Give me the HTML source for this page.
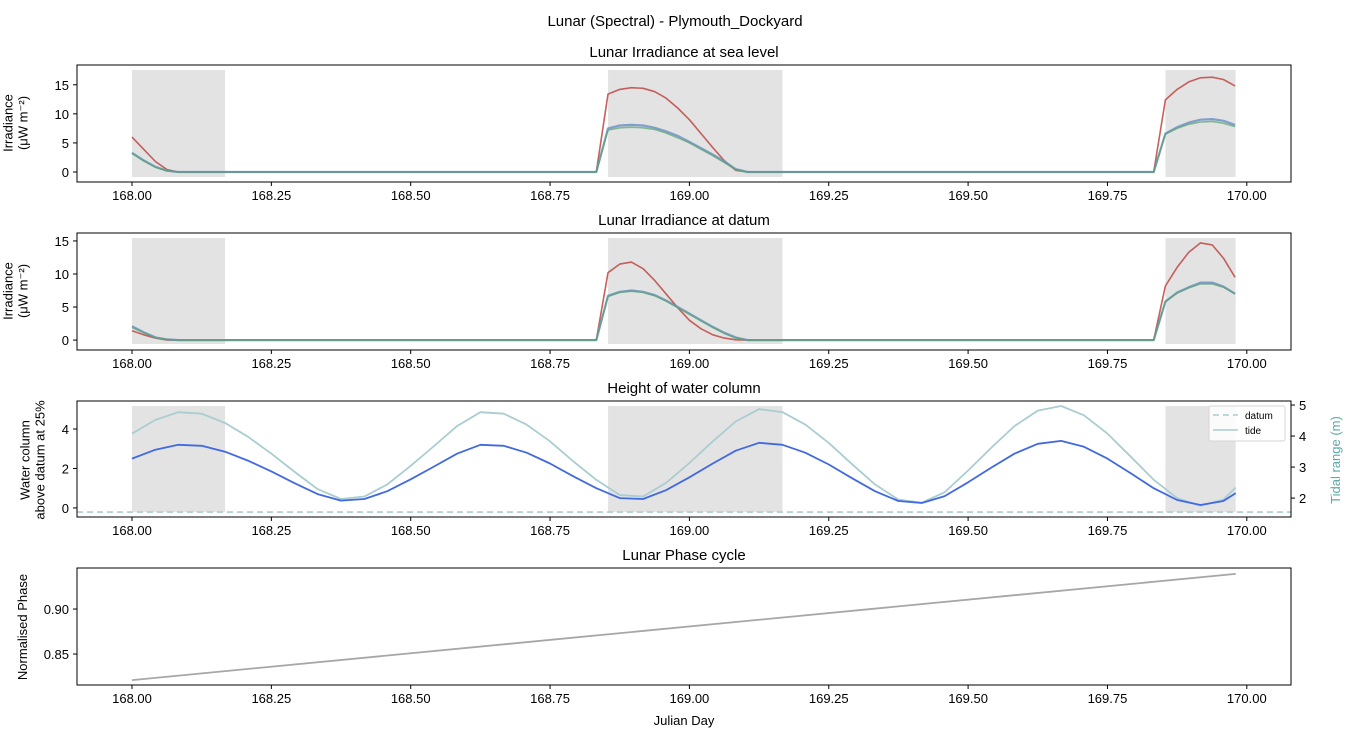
<!DOCTYPE html>
<html><head><meta charset="utf-8"><style>
html,body{margin:0;padding:0;background:#fff;}
svg{display:block;font-family:"Liberation Sans","DejaVu Sans",sans-serif;}
</style></head><body>
<svg id="fig" width="1350" height="734" viewBox="0 0 1350 734"></svg>
<script>
// ---- data ----
const sparseT1 = [168.0,168.021,168.042,168.063,168.083,168.833,168.854,168.875,168.896,168.917,168.938,168.958,168.979,169.0,169.021,169.042,169.063,169.083,169.104,169.833,169.854,169.875,169.896,169.917,169.938,169.958,169.979];
const seaRed   = [6.0,3.9,1.8,0.4,0,0,13.4,14.2,14.5,14.4,13.8,12.7,11.0,9.0,6.6,4.2,1.9,0.3,0,0,12.4,14.2,15.5,16.2,16.3,15.9,14.8];
const seaBlue  = [3.3,2.0,0.9,0.2,0,0,7.5,8.0,8.1,8.0,7.6,7.0,6.2,5.2,4.1,3.0,1.8,0.5,0,0,6.6,7.7,8.5,9.0,9.1,8.8,8.1];
const seaGreen = [3.2,1.9,0.8,0.2,0,0,7.2,7.6,7.7,7.6,7.3,6.7,5.9,5.0,3.9,2.8,1.6,0.4,0,0,6.5,7.5,8.2,8.6,8.7,8.4,7.8];
const datRed   = [1.4,0.8,0.3,0,0,0,10.2,11.5,11.8,10.8,9.0,7.0,4.9,3.0,1.7,0.8,0.3,0.05,0,0,8.2,11.0,13.3,14.7,14.4,12.4,9.5];
const datBlue  = [2.1,1.2,0.4,0.1,0,0,6.7,7.3,7.5,7.3,6.8,6.0,5.0,4.0,3.0,2.0,1.1,0.4,0,0,5.8,7.2,8.0,8.7,8.7,8.1,7.0];
const datGreen = [1.9,1.1,0.4,0.1,0,0,6.6,7.2,7.4,7.2,6.7,5.9,4.9,3.9,2.9,1.9,1.0,0.3,0,0,5.9,7.1,7.9,8.5,8.5,8.0,7.0];
const tideT = [168.0,168.042,168.083,168.125,168.167,168.208,168.25,168.292,168.333,168.375,168.417,168.458,168.5,168.542,168.583,168.625,168.667,168.708,168.75,168.792,168.833,168.875,168.917,168.958,169.0,169.042,169.083,169.125,169.167,169.208,169.25,169.292,169.333,169.375,169.417,169.458,169.5,169.542,169.583,169.625,169.667,169.708,169.75,169.792,169.833,169.875,169.917,169.958,169.98];
const waterCol = [2.5,2.95,3.2,3.15,2.85,2.4,1.85,1.25,0.7,0.37,0.45,0.85,1.45,2.1,2.75,3.2,3.15,2.8,2.25,1.6,1.0,0.5,0.45,0.9,1.55,2.25,2.9,3.3,3.2,2.8,2.2,1.5,0.85,0.35,0.25,0.6,1.3,2.05,2.75,3.25,3.4,3.1,2.5,1.75,1.0,0.4,0.15,0.35,0.75];
const tideRange = [4.08,4.52,4.77,4.72,4.42,3.98,3.43,2.84,2.29,1.97,2.05,2.44,3.04,3.68,4.32,4.77,4.72,4.37,3.83,3.18,2.59,2.10,2.05,2.49,3.13,3.83,4.47,4.87,4.77,4.37,3.78,3.09,2.44,1.95,1.85,2.19,2.89,3.63,4.32,4.82,4.97,4.67,4.08,3.33,2.59,2.00,1.75,1.95,2.34];
const datumLevel = [1.55];
const phaseT = [168.0,169.98];
const phaseV = [0.821,0.939];
const nightBands = [[168.0,168.167],[168.854,169.167],[169.854,169.98]];
const xTicks = [168.0,168.25,168.5,168.75,169.0,169.25,169.5,169.75,170.0];

// ---- layout ----
const NS="http://www.w3.org/2000/svg";
const svg=document.getElementById('fig');
const AX0=77, AX1=1291;
const xs=v=>132+(v-168)*557.4;
function el(tag,attrs,parent){const e=document.createElementNS(NS,tag);for(const k in attrs)e.setAttribute(k,attrs[k]);(parent||svg).appendChild(e);return e;}
function txt(s,x,y,attrs){const t=el('text',Object.assign({x:x,y:y,'font-size':13,fill:'#000'},attrs||{}));t.textContent=s;return t;}
function mkY(top,bot,lo,hi){return v=>bot-(v-lo)/(hi-lo)*(bot-top);}
function path(xsArr,ysArr,ys,attrs,name){
  let d='';xsArr.forEach((t,i)=>{d+=(i?'L':'M')+xs(t).toFixed(1)+' '+ys(ysArr[i]).toFixed(1);});
  const p=el('path',Object.assign({d:d,fill:'none','stroke-width':1.6,'stroke-linejoin':'round'},attrs));
  
  
  return p;
}
function panel(top,bot,title,name){
  const g=el('g',{});
  
  
  const t=txt(title,(AX0+AX1)/2,top-8,{'text-anchor':'middle','font-size':15});
  
  
  xTicks.forEach(v=>{const x=xs(v);el('line',{x1:x,x2:x,y1:bot,y2:bot+4,stroke:'#000'});
    const l=txt(v.toFixed(2),x,bot+18,{'text-anchor':'middle'});
    
    });
  return g;
}
function frame(top,bot){el('rect',{x:AX0,y:top,width:AX1-AX0,height:bot-top,fill:'none',stroke:'#000','stroke-width':1});}
function bands(top,bot){nightBands.forEach(b=>{const r=el('rect',{x:xs(b[0]),y:top,width:xs(b[1])-xs(b[0]),height:bot-top,fill:'#e3e3e3'});
  
  });}
function yticks(ticks,ys,fmt,side){ticks.forEach(v=>{const y=ys(v);
  if(side==='r'){el('line',{x1:AX1,x2:AX1+4,y1:y,y2:y,stroke:'#000'});txt(fmt(v),AX1+8,y+5,{});}
  else{el('line',{x1:AX0-4,x2:AX0,y1:y,y2:y,stroke:'#000'});txt(fmt(v),AX0-8,y+5,{'text-anchor':'end'});}});}
function ylabel(lines,x,cy,color){const t=el('text',{transform:`translate(${x},${cy}) rotate(-90)`,'text-anchor':'middle','font-size':13,fill:color||'#000'});
  lines.forEach((s,i)=>{const ts=el('tspan',{x:0,dy:i?15:(-(lines.length-1)*7.5)},t);ts.textContent=s;});
  
  }

const sup=txt('Lunar (Spectral) - Plymouth_Dockyard',675,26,{'text-anchor':'middle','font-size':15});



const RED='#c0504d', BLUE='#6b93c4', GREEN='#5aa36f';
// panel 1
{const top=65,bot=182,ys=mkY(top,bot,-1.72,18.4);
 panel(top,bot,'Lunar Irradiance at sea level','sea-level-panel');bands(70,177);
 path(sparseT1,seaRed,ys,{stroke:RED,'stroke-opacity':0.9},'sea-red-line');
 path(sparseT1,seaBlue,ys,{stroke:BLUE,'stroke-opacity':0.85,'stroke-width':2.2},'sea-blue-line');
 path(sparseT1,seaGreen,ys,{stroke:GREEN,'stroke-opacity':0.7},'sea-green-line');
 frame(top,bot);yticks([0,5,10,15],ys,v=>v,'l');ylabel(['Irradiance','(μW m⁻²)'],20,123);}
// panel 2
{const top=233,bot=350,ys=mkY(top,bot,-1.5,16.2);
 panel(top,bot,'Lunar Irradiance at datum','datum-panel');bands(238,344);
 path(sparseT1,datRed,ys,{stroke:RED,'stroke-opacity':0.9},'datum-red-line');
 path(sparseT1,datBlue,ys,{stroke:BLUE,'stroke-opacity':0.85,'stroke-width':2.2},'datum-blue-line');
 path(sparseT1,datGreen,ys,{stroke:GREEN,'stroke-opacity':0.7},'datum-green-line');
 frame(top,bot);yticks([0,5,10,15],ys,v=>v,'l');ylabel(['Irradiance','(μW m⁻²)'],20,291);}
// panel 3
{const top=401,bot=517,ys=mkY(top,bot,-0.46,5.42),yr=mkY(top,bot,1.39,5.13);
 panel(top,bot,'Height of water column','water-column-panel');bands(406,512);
 const d=el('line',{x1:AX0,x2:AX1,y1:yr(datumLevel[0]),y2:yr(datumLevel[0]),stroke:'#a9cdd0','stroke-width':1.6,'stroke-dasharray':'6,4'});
 
 
 path(tideT,tideRange,yr,{stroke:'#a9cdd0','stroke-width':1.8},'tide-line');
 path(tideT,waterCol,ys,{stroke:'#4169e1','stroke-width':1.8},'water-column-line');
 frame(top,bot);yticks([0,2,4],ys,v=>v,'l');yticks([2,3,4,5],yr,v=>v,'r');
 ylabel(['Water column','above datum at 25%'],37,460);ylabel(['Tidal range (m)'],1340,460,'#5fa8a8');
 const lg=el('g',{});
 
 
 el('rect',{x:1209,y:406,width:76,height:35,rx:2,fill:'#fff','fill-opacity':0.85,stroke:'#d6d6d6'},lg);
 el('line',{x1:1213,x2:1238,y1:415,y2:415,stroke:'#a9cdd0','stroke-width':1.6,'stroke-dasharray':'6,4'},lg);
 el('line',{x1:1213,x2:1238,y1:430,y2:430,stroke:'#a9cdd0','stroke-width':1.6},lg);
 const a=el('text',{x:1245,y:419,'font-size':10},lg);a.textContent='datum';
 const b=el('text',{x:1245,y:434,'font-size':10},lg);b.textContent='tide';}
// panel 4
{const top=568,bot=685,ys=mkY(top,bot,0.8156,0.9456);
 panel(top,bot,'Lunar Phase cycle','phase-panel');
 path(phaseT,phaseV,ys,{stroke:'#a8a6a6','stroke-width':1.8},'phase-line');
 frame(top,bot);yticks([0.85,0.90],ys,v=>v.toFixed(2),'l');ylabel(['Normalised Phase'],27,627);
 const xl=txt('Julian Day',684,725,{'text-anchor':'middle'});
 
 }
</script>
</body></html>
